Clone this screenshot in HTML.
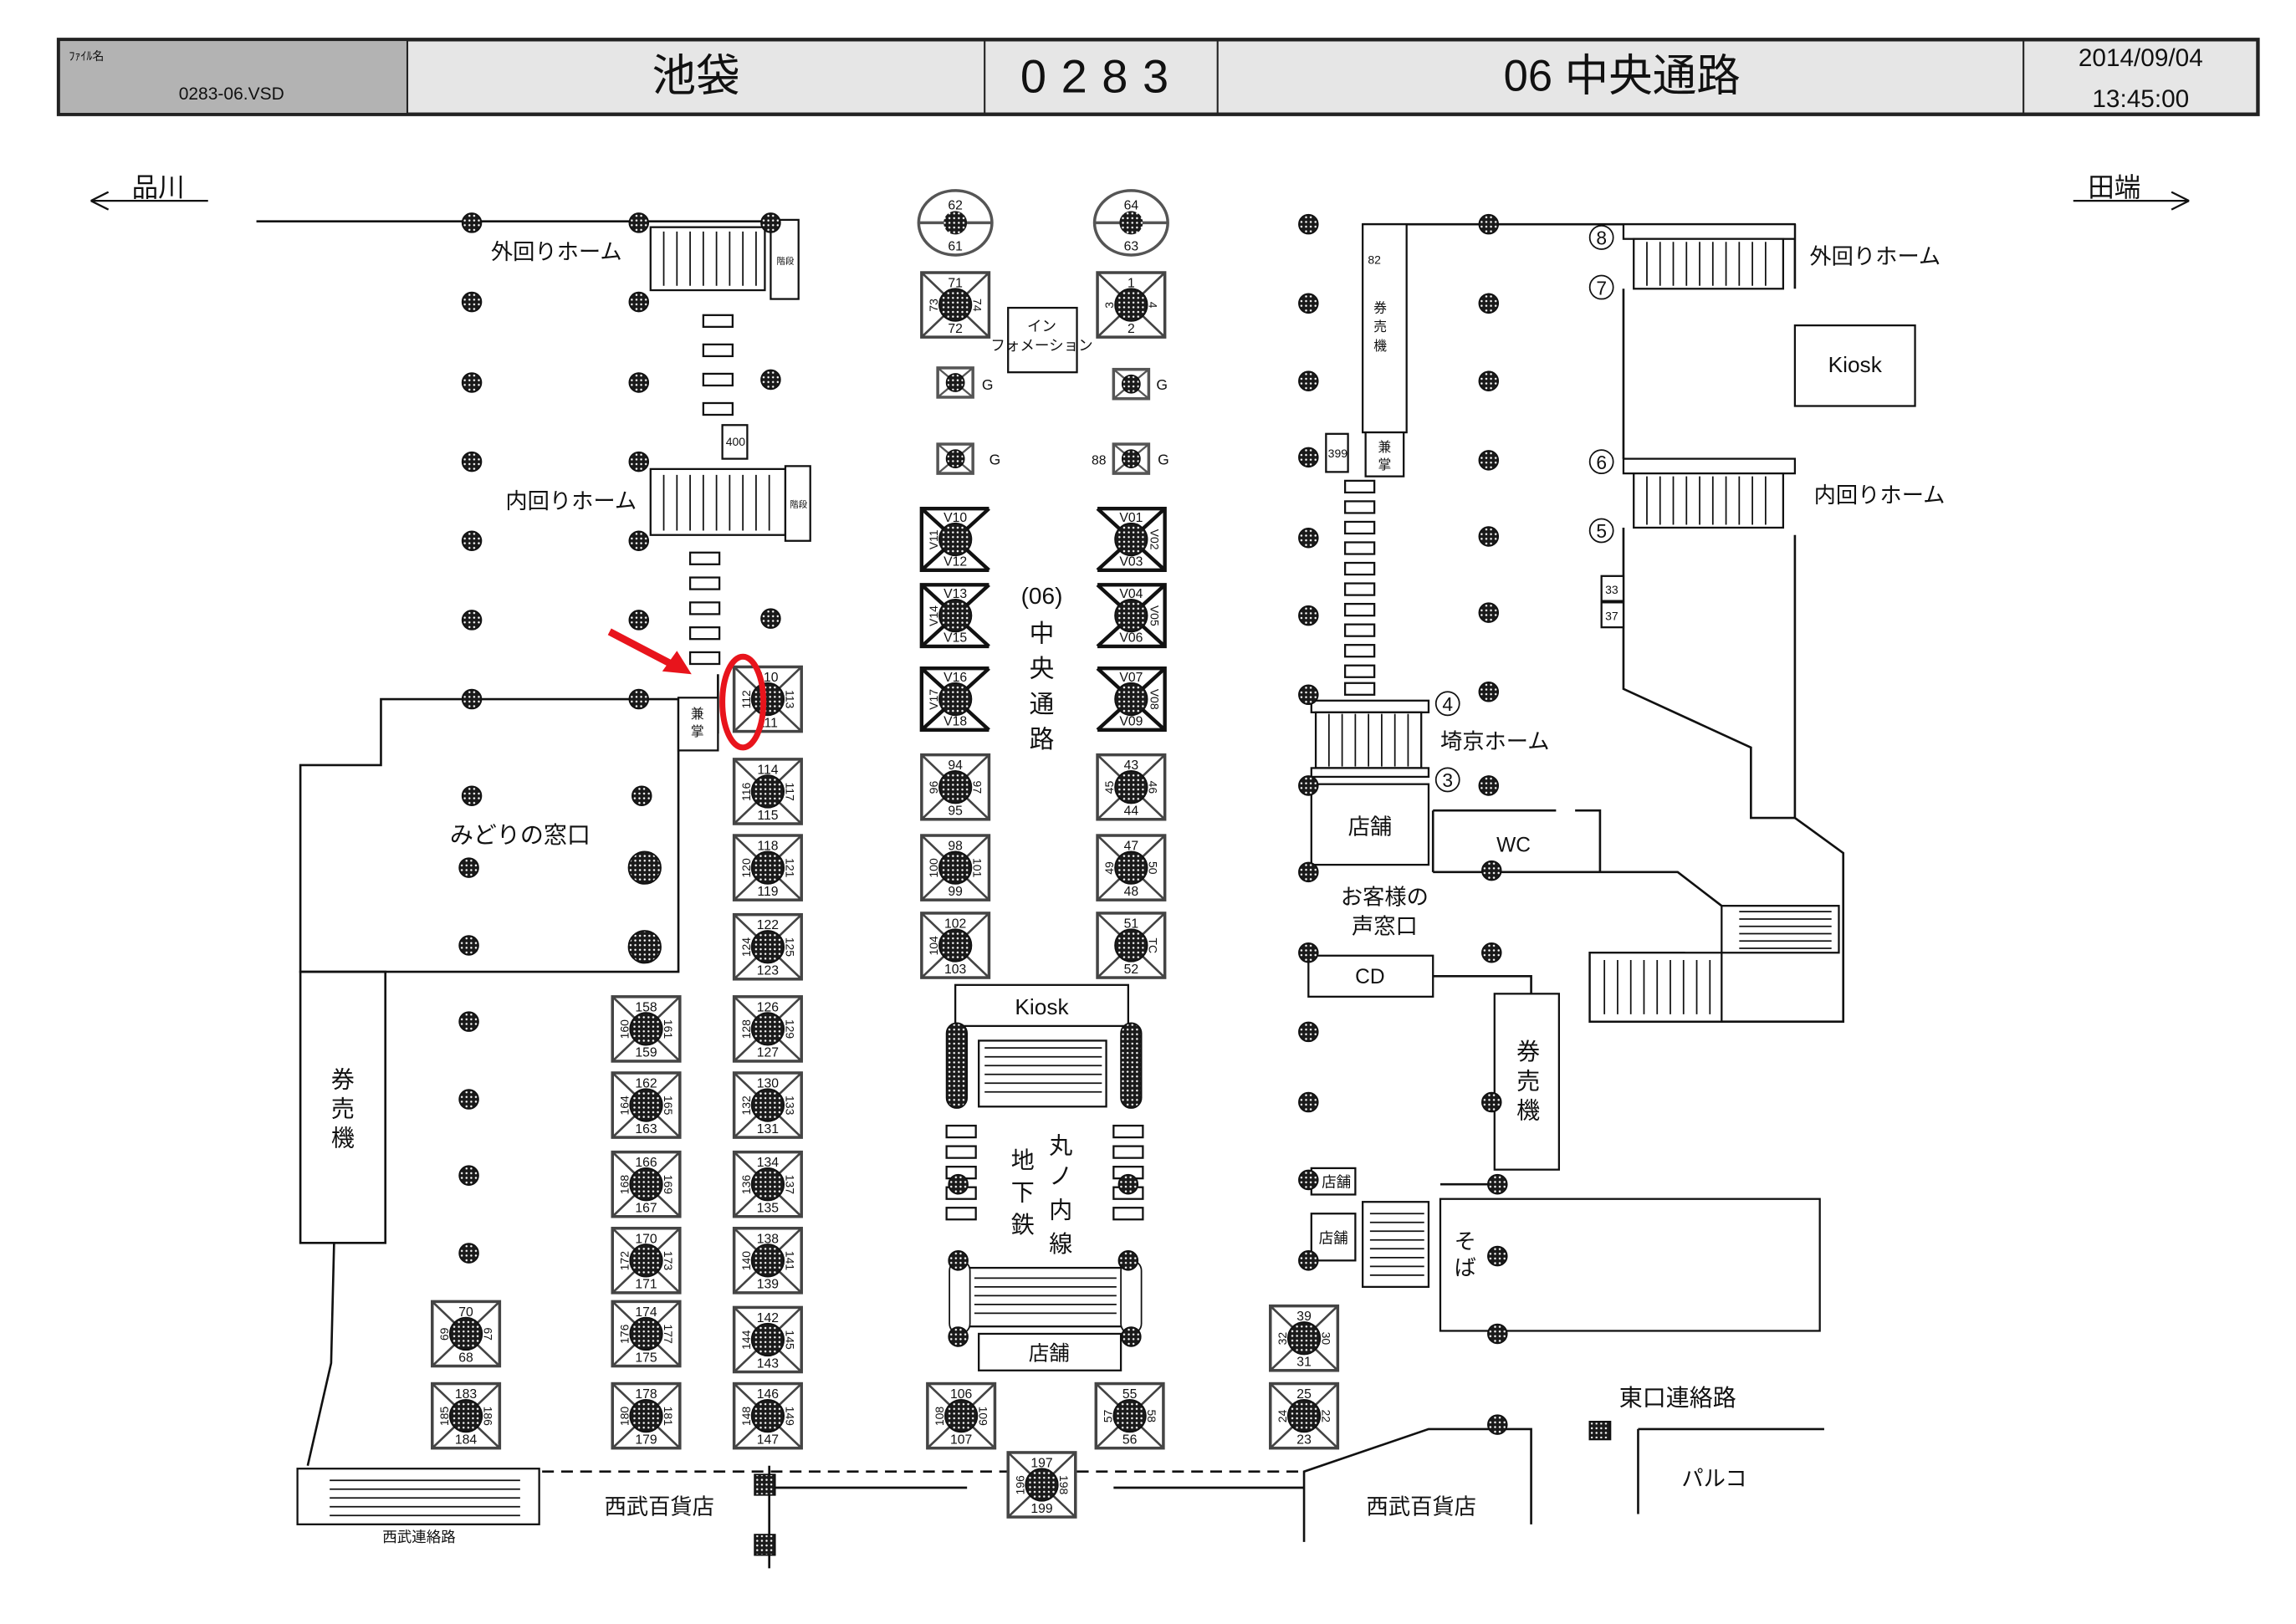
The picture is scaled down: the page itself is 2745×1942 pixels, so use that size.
<!DOCTYPE html>
<html><head><meta charset="utf-8"><style>
html,body{margin:0;padding:0;background:#fff;}
svg{display:block;}
text{font-family:"Liberation Sans","Noto Sans CJK JP",sans-serif;fill:#111;}
.s{font-size:9px;text-anchor:middle;}
.m{font-size:16px;}
.c{text-anchor:middle;}
g > text.s[x^="-"]{font-size:8px;transform-box:fill-box;transform-origin:center;transform:rotate(-90deg);}
g > text.s[x="15"],g > text.s[x="16"]{font-size:8px;transform-box:fill-box;transform-origin:center;transform:rotate(90deg);}
</style></head><body>
<svg width="2745" height="1942" viewBox="0 0 1567 1108" preserveAspectRatio="none" xmlns="http://www.w3.org/2000/svg">
<defs>
<pattern id="dot" width="3.2" height="3.2" patternUnits="userSpaceOnUse"><rect width="3.2" height="3.2" fill="#1a1a1a"/><circle cx="1.6" cy="1.6" r="0.7" fill="#fff"/></pattern>
<g id="p"><circle r="6.5" fill="url(#dot)" stroke="#111" stroke-width="1"/></g>
<g id="xb"><rect x="-23" y="-22" width="46" height="44" fill="#fff" stroke="#444" stroke-width="2"/><path d="M-23,-22L23,22M23,-22L-23,22" stroke="#444" stroke-width="1.5"/><circle r="11" fill="url(#dot)" stroke="#111"/></g>
<g id="vb"><path d="M23,-21H-23V21H23M-23,-21L23,21M23,-21L-23,21" fill="none" stroke="#111" stroke-width="2.5"/><circle r="11" fill="url(#dot)" stroke="#111"/></g>
<g id="vr"><path d="M-23,-21H23V21H-23M-23,-21L23,21M23,-21L-23,21" fill="none" stroke="#111" stroke-width="2.5"/><circle r="11" fill="url(#dot)" stroke="#111"/></g>
<g id="gb"><rect x="-12" y="-10" width="24" height="20" fill="#fff" stroke="#555" stroke-width="2"/><path d="M-12,-10L12,10M12,-10L-12,10" stroke="#555" stroke-width="1.3"/><circle r="6" fill="url(#dot)" stroke="#111"/></g>
<g id="rg"><rect x="-10" y="-4" width="20" height="8" fill="#fff" stroke="#111" stroke-width="1.3"/></g>
</defs>

<rect x="40" y="27" width="1501" height="51" fill="#e6e6e6" stroke="#222" stroke-width="2.5"/>
<rect x="41" y="28" width="237" height="49" fill="#b3b3b3"/>
<path d="M278,27V78M672,27V78M831,27V78M1381,27V78" stroke="#222" stroke-width="1.2"/>
<text x="47" y="41" style="font-size:8px">ﾌｧｲﾙ名</text>
<text x="158" y="68" class="c" style="font-size:12px">0283-06.VSD</text>
<text x="475" y="62" class="c" style="font-size:30px">池袋</text>
<text x="752" y="63" class="c" style="font-size:32px;letter-spacing:10px">0283</text>
<text x="1107" y="62" class="c" style="font-size:30px">06 中央通路</text>
<text x="1461" y="45" class="c" style="font-size:17px">2014/09/04</text>
<text x="1461" y="73" class="c" style="font-size:17px">13:45:00</text>

<path d="M62,137H142M62,137l12,-6M62,137l12,6" stroke="#111" stroke-width="1.3" fill="none"/>
<text x="90" y="134" class="m" style="font-size:18px">品川</text>
<path d="M1415,137H1494M1494,137l-12,-6M1494,137l-12,6" stroke="#111" stroke-width="1.3" fill="none"/>
<text x="1425" y="134" class="m" style="font-size:18px">田端</text>

<g stroke="#111" stroke-width="1.5" fill="none">
<path d="M175,151H525"/>
<path d="M205,522H260V477H463V663H205Z"/>
<rect x="205" y="663" width="58" height="185"/>
<path d="M228,848L226,930L210,1000"/>
<path d="M463,512L490,500V460"/>
<path d="M525,1000V1070"/>
<path d="M525,1015H660M760,1015H890"/>
<path d="M370,1004H690M735,1004H890" stroke-dasharray="8,5"/>
<path d="M930,153H1225"/>
<path d="M1108,197V313M1108,360V470L1195,510V558H1225V365M1225,558L1258,582V697H1085V650H1150"/>
<path d="M1225,197V153"/>
<path d="M978,553H1062M1075,553H1092V595"/>
<path d="M978,595H1145L1175,618"/>
<path d="M978,553V595"/>
<path d="M890,1052V1004L975,975H1045V1040"/>
<path d="M1118,975H1245M1118,975V1033"/>
<path d="M978,666H1045V678"/>
<path d="M983,808H1020"/>
</g>

<g stroke="#111" stroke-width="1.3" fill="#fff">
<rect x="444" y="155" width="78" height="43"/>
<rect x="526" y="150" width="19" height="54"/>
<rect x="444" y="320" width="92" height="45"/>
<rect x="536" y="318" width="17" height="51"/>
<rect x="1108" y="153" width="117" height="10"/>
<rect x="1115" y="163" width="102" height="34"/>
<rect x="1108" y="313" width="117" height="10"/>
<rect x="1115" y="323" width="102" height="37"/>
<rect x="895" y="478" width="80" height="8"/>
<rect x="898" y="486" width="72" height="38"/>
<rect x="895" y="524" width="80" height="6"/>
<rect x="1175" y="618" width="80" height="32"/>
<rect x="1085" y="650" width="90" height="47"/>
<rect x="930" y="820" width="45" height="58"/>
<rect x="203" y="1002" width="165" height="38"/>
<rect x="652" y="672" width="118" height="28"/>
<rect x="668" y="710" width="87" height="45"/>
<rect x="655" y="865" width="115" height="40"/>
<rect x="668" y="910" width="97" height="25"/>
<rect x="688" y="210" width="47" height="44"/>
<rect x="930" y="153" width="30" height="142"/>
<rect x="932" y="295" width="26" height="30"/>
<rect x="905" y="296" width="15" height="26"/>
<rect x="493" y="290" width="17" height="23"/>
<rect x="463" y="476" width="27" height="36"/>
<rect x="895" y="535" width="80" height="55"/>
<rect x="893" y="652" width="85" height="28"/>
<rect x="1020" y="678" width="44" height="120"/>
<rect x="983" y="818" width="259" height="90"/>
<rect x="895" y="797" width="30" height="18"/>
<rect x="895" y="828" width="30" height="32"/>
<rect x="1093" y="393" width="15" height="17"/>
<rect x="1093" y="411" width="15" height="17"/>
<rect x="1085" y="970" width="14" height="12" fill="url(#dot)"/>
</g>
<g stroke="#111" stroke-width="1">
<path d="M453,158V195M462,158V195M471,158V195M480,158V195M489,158V195M498,158V195M507,158V195M516,158V195"/>
<path d="M453,324V362M462,324V362M471,324V362M480,324V362M489,324V362M498,324V362M507,324V362M516,324V362M525,324V362"/>
<path d="M1124,165V195M1133,165V195M1142,165V195M1151,165V195M1160,165V195M1169,165V195M1178,165V195M1187,165V195M1196,165V195M1205,165V195"/>
<path d="M1124,325V358M1133,325V358M1142,325V358M1151,325V358M1160,325V358M1169,325V358M1178,325V358M1187,325V358M1196,325V358M1205,325V358"/>
<path d="M907,487V523M916,487V523M925,487V523M934,487V523M943,487V523M952,487V523M961,487V523"/>
<path d="M1095,655V692M1104,655V692M1113,655V692M1122,655V692M1131,655V692M1140,655V692M1149,655V692M1158,655V692M1167,655V692"/>
<path d="M1187,622H1250M1187,627H1250M1187,632H1250M1187,637H1250M1187,642H1250M1187,647H1250"/>
<path d="M935,828H972M935,834H972M935,840H972M935,846H972M935,852H972M935,858H972M935,864H972M935,870H972"/>
<path d="M225,1010H355M225,1016H355M225,1022H355M225,1028H355M225,1034H355"/>
<path d="M672,715H752M672,721H752M672,727H752M672,733H752M672,739H752M672,745H752"/>
<path d="M665,872H762M665,878H762M665,884H762M665,890H762M665,896H762"/>
</g>
<rect x="646" y="698" width="14" height="58" rx="7" fill="url(#dot)" stroke="#111"/>
<rect x="765" y="698" width="14" height="58" rx="7" fill="url(#dot)" stroke="#111"/>
<rect x="648" y="860" width="14" height="50" rx="7" fill="#fff" stroke="#111"/>
<rect x="765" y="860" width="14" height="50" rx="7" fill="#fff" stroke="#111"/>

<use href="#rg" x="490" y="219"/><use href="#rg" x="490" y="239"/><use href="#rg" x="490" y="259"/><use href="#rg" x="490" y="279"/>
<use href="#rg" x="481" y="381"/><use href="#rg" x="481" y="398"/><use href="#rg" x="481" y="415"/><use href="#rg" x="481" y="432"/><use href="#rg" x="481" y="449"/>
<use href="#rg" x="928" y="332"/><use href="#rg" x="928" y="346"/><use href="#rg" x="928" y="360"/><use href="#rg" x="928" y="374"/><use href="#rg" x="928" y="388"/><use href="#rg" x="928" y="402"/><use href="#rg" x="928" y="416"/><use href="#rg" x="928" y="430"/><use href="#rg" x="928" y="444"/><use href="#rg" x="928" y="458"/><use href="#rg" x="928" y="470"/>
<use href="#rg" x="656" y="772"/><use href="#rg" x="656" y="786"/><use href="#rg" x="656" y="800"/><use href="#rg" x="656" y="814"/><use href="#rg" x="656" y="828"/>
<use href="#rg" x="770" y="772"/><use href="#rg" x="770" y="786"/><use href="#rg" x="770" y="800"/><use href="#rg" x="770" y="814"/><use href="#rg" x="770" y="828"/>

<use href="#p" x="322" y="152"/><use href="#p" x="322" y="206"/><use href="#p" x="322" y="261"/><use href="#p" x="322" y="315"/><use href="#p" x="322" y="369"/><use href="#p" x="322" y="423"/><use href="#p" x="322" y="477"/><use href="#p" x="322" y="543"/><use href="#p" x="320" y="592"/><use href="#p" x="320" y="645"/><use href="#p" x="320" y="697"/><use href="#p" x="320" y="750"/><use href="#p" x="320" y="802"/><use href="#p" x="320" y="855"/>
<use href="#p" x="436" y="152"/><use href="#p" x="436" y="206"/><use href="#p" x="436" y="261"/><use href="#p" x="436" y="315"/><use href="#p" x="436" y="369"/><use href="#p" x="436" y="423"/><use href="#p" x="436" y="477"/><use href="#p" x="438" y="543"/>
<circle cx="440" cy="592" r="11" fill="url(#dot)" stroke="#111"/><circle cx="440" cy="646" r="11" fill="url(#dot)" stroke="#111"/>
<use href="#p" x="526" y="152"/><use href="#p" x="526" y="259"/><use href="#p" x="526" y="422"/>
<use href="#p" x="893" y="153"/><use href="#p" x="893" y="207"/><use href="#p" x="893" y="260"/><use href="#p" x="893" y="312"/><use href="#p" x="893" y="367"/><use href="#p" x="893" y="420"/><use href="#p" x="893" y="474"/><use href="#p" x="893" y="536"/><use href="#p" x="893" y="595"/><use href="#p" x="893" y="650"/><use href="#p" x="893" y="704"/><use href="#p" x="893" y="752"/><use href="#p" x="893" y="805"/><use href="#p" x="893" y="860"/>
<use href="#p" x="1016" y="153"/><use href="#p" x="1016" y="207"/><use href="#p" x="1016" y="260"/><use href="#p" x="1016" y="314"/><use href="#p" x="1016" y="366"/><use href="#p" x="1016" y="418"/><use href="#p" x="1016" y="472"/><use href="#p" x="1016" y="536"/><use href="#p" x="1018" y="594"/><use href="#p" x="1018" y="650"/><use href="#p" x="1018" y="752"/><use href="#p" x="1022" y="808"/><use href="#p" x="1022" y="857"/><use href="#p" x="1022" y="910"/><use href="#p" x="1022" y="972"/>
<use href="#p" x="654" y="808"/><use href="#p" x="770" y="808"/><use href="#p" x="654" y="860"/><use href="#p" x="770" y="860"/><use href="#p" x="654" y="912"/><use href="#p" x="772" y="912"/>
<rect x="515" y="1006" width="14" height="14" fill="url(#dot)" stroke="#111"/><rect x="515" y="1047" width="14" height="14" fill="url(#dot)" stroke="#111"/>

<g stroke="#555" stroke-width="2" fill="#fff"><ellipse cx="652" cy="152" rx="25" ry="22"/><ellipse cx="772" cy="152" rx="25" ry="22"/><path d="M627,152H677M747,152H797" fill="none"/></g>
<circle cx="652" cy="152" r="8" fill="url(#dot)"/><circle cx="772" cy="152" r="8" fill="url(#dot)"/>
<text x="652" y="143" class="s">62</text><text x="652" y="171" class="s">61</text><text x="772" y="143" class="s">64</text><text x="772" y="171" class="s">63</text>

<g transform="translate(652,208)"><use href="#xb"/><text y="-12" class="s">71</text><text y="19" class="s">72</text><text x="-15" y="3" class="s">73</text><text x="15" y="3" class="s">74</text></g>
<g transform="translate(772,208)"><use href="#xb"/><text y="-12" class="s">1</text><text y="19" class="s">2</text><text x="-15" y="3" class="s">3</text><text x="15" y="3" class="s">4</text></g>
<use href="#gb" x="652" y="261"/><use href="#gb" x="772" y="262"/><use href="#gb" x="652" y="313"/><use href="#gb" x="772" y="313"/>
<text x="674" y="266" class="s" style="font-size:10px">G</text><text x="793" y="266" class="s" style="font-size:10px">G</text><text x="679" y="317" class="s" style="font-size:10px">G</text><text x="794" y="317" class="s" style="font-size:10px">G</text><text x="750" y="317" class="s">88</text>
<g transform="translate(652,368)"><use href="#vb"/><text y="-12" class="s">V10</text><text y="18" class="s">V12</text><text x="-15" y="3" class="s">V11</text></g>
<g transform="translate(772,368)"><use href="#vr"/><text y="-12" class="s">V01</text><text y="18" class="s">V03</text><text x="16" y="3" class="s">V02</text></g>
<g transform="translate(652,420)"><use href="#vb"/><text y="-12" class="s">V13</text><text y="18" class="s">V15</text><text x="-15" y="3" class="s">V14</text></g>
<g transform="translate(772,420)"><use href="#vr"/><text y="-12" class="s">V04</text><text y="18" class="s">V06</text><text x="16" y="3" class="s">V05</text></g>
<g transform="translate(652,477)"><use href="#vb"/><text y="-12" class="s">V16</text><text y="18" class="s">V18</text><text x="-15" y="3" class="s">V17</text></g>
<g transform="translate(772,477)"><use href="#vr"/><text y="-12" class="s">V07</text><text y="18" class="s">V09</text><text x="16" y="3" class="s">V08</text></g>
<g transform="translate(652,537)"><use href="#xb"/><text y="-12" class="s">94</text><text y="19" class="s">95</text><text x="-15" y="3" class="s">96</text><text x="15" y="3" class="s">97</text></g>
<g transform="translate(772,537)"><use href="#xb"/><text y="-12" class="s">43</text><text y="19" class="s">44</text><text x="-15" y="3" class="s">45</text><text x="15" y="3" class="s">46</text></g>
<g transform="translate(652,592)"><use href="#xb"/><text y="-12" class="s">98</text><text y="19" class="s">99</text><text x="-15" y="3" class="s">100</text><text x="15" y="3" class="s">101</text></g>
<g transform="translate(772,592)"><use href="#xb"/><text y="-12" class="s">47</text><text y="19" class="s">48</text><text x="-15" y="3" class="s">49</text><text x="15" y="3" class="s">50</text></g>
<g transform="translate(652,645)"><use href="#xb"/><text y="-12" class="s">102</text><text y="19" class="s">103</text><text x="-15" y="3" class="s">104</text></g>
<g transform="translate(772,645)"><use href="#xb"/><text y="-12" class="s">51</text><text y="19" class="s">52</text><text x="15" y="3" class="s">TC</text></g>
<g transform="translate(656,966)"><use href="#xb"/><text y="-12" class="s">106</text><text y="19" class="s">107</text><text x="-15" y="3" class="s">108</text><text x="15" y="3" class="s">109</text></g>
<g transform="translate(771,966)"><use href="#xb"/><text y="-12" class="s">55</text><text y="19" class="s">56</text><text x="-15" y="3" class="s">57</text><text x="15" y="3" class="s">58</text></g>
<g transform="translate(711,1013)"><use href="#xb"/><text y="-12" class="s">197</text><text y="19" class="s">199</text><text x="-15" y="3" class="s">196</text><text x="15" y="3" class="s">198</text></g>
<g transform="translate(890,913)"><use href="#xb"/><text y="-12" class="s">39</text><text y="19" class="s">31</text><text x="-15" y="3" class="s">32</text><text x="15" y="3" class="s">30</text></g>
<g transform="translate(890,966)"><use href="#xb"/><text y="-12" class="s">25</text><text y="19" class="s">23</text><text x="-15" y="3" class="s">24</text><text x="15" y="3" class="s">22</text></g>

<g transform="translate(524,477)"><use href="#xb"/><text y="-12" class="s">110</text><text y="19" class="s">111</text><text x="-15" y="3" class="s">112</text><text x="15" y="3" class="s">113</text></g>
<g transform="translate(524,540)"><use href="#xb"/><text y="-12" class="s">114</text><text y="19" class="s">115</text><text x="-15" y="3" class="s">116</text><text x="15" y="3" class="s">117</text></g>
<g transform="translate(524,592)"><use href="#xb"/><text y="-12" class="s">118</text><text y="19" class="s">119</text><text x="-15" y="3" class="s">120</text><text x="15" y="3" class="s">121</text></g>
<g transform="translate(524,646)"><use href="#xb"/><text y="-12" class="s">122</text><text y="19" class="s">123</text><text x="-15" y="3" class="s">124</text><text x="15" y="3" class="s">125</text></g>
<g transform="translate(524,702)"><use href="#xb"/><text y="-12" class="s">126</text><text y="19" class="s">127</text><text x="-15" y="3" class="s">128</text><text x="15" y="3" class="s">129</text></g>
<g transform="translate(524,754)"><use href="#xb"/><text y="-12" class="s">130</text><text y="19" class="s">131</text><text x="-15" y="3" class="s">132</text><text x="15" y="3" class="s">133</text></g>
<g transform="translate(524,808)"><use href="#xb"/><text y="-12" class="s">134</text><text y="19" class="s">135</text><text x="-15" y="3" class="s">136</text><text x="15" y="3" class="s">137</text></g>
<g transform="translate(524,860)"><use href="#xb"/><text y="-12" class="s">138</text><text y="19" class="s">139</text><text x="-15" y="3" class="s">140</text><text x="15" y="3" class="s">141</text></g>
<g transform="translate(524,914)"><use href="#xb"/><text y="-12" class="s">142</text><text y="19" class="s">143</text><text x="-15" y="3" class="s">144</text><text x="15" y="3" class="s">145</text></g>
<g transform="translate(524,966)"><use href="#xb"/><text y="-12" class="s">146</text><text y="19" class="s">147</text><text x="-15" y="3" class="s">148</text><text x="15" y="3" class="s">149</text></g>
<g transform="translate(441,702)"><use href="#xb"/><text y="-12" class="s">158</text><text y="19" class="s">159</text><text x="-15" y="3" class="s">160</text><text x="15" y="3" class="s">161</text></g>
<g transform="translate(441,754)"><use href="#xb"/><text y="-12" class="s">162</text><text y="19" class="s">163</text><text x="-15" y="3" class="s">164</text><text x="15" y="3" class="s">165</text></g>
<g transform="translate(441,808)"><use href="#xb"/><text y="-12" class="s">166</text><text y="19" class="s">167</text><text x="-15" y="3" class="s">168</text><text x="15" y="3" class="s">169</text></g>
<g transform="translate(441,860)"><use href="#xb"/><text y="-12" class="s">170</text><text y="19" class="s">171</text><text x="-15" y="3" class="s">172</text><text x="15" y="3" class="s">173</text></g>
<g transform="translate(441,910)"><use href="#xb"/><text y="-12" class="s">174</text><text y="19" class="s">175</text><text x="-15" y="3" class="s">176</text><text x="15" y="3" class="s">177</text></g>
<g transform="translate(441,966)"><use href="#xb"/><text y="-12" class="s">178</text><text y="19" class="s">179</text><text x="-15" y="3" class="s">180</text><text x="15" y="3" class="s">181</text></g>
<g transform="translate(318,910)"><use href="#xb"/><text y="-12" class="s">70</text><text y="19" class="s">68</text><text x="-15" y="3" class="s">69</text><text x="15" y="3" class="s">67</text></g>
<g transform="translate(318,966)"><use href="#xb"/><text y="-12" class="s">183</text><text y="19" class="s">184</text><text x="-15" y="3" class="s">185</text><text x="15" y="3" class="s">186</text></g>

<g fill="#fff" stroke="#111" stroke-width="1"><circle cx="1093" cy="162" r="8"/><circle cx="1093" cy="196" r="8"/><circle cx="1093" cy="315" r="8"/><circle cx="1093" cy="362" r="8"/><circle cx="988" cy="480" r="8"/><circle cx="988" cy="532" r="8"/></g>
<text x="1093" y="167" class="c" style="font-size:13px">8</text><text x="1093" y="201" class="c" style="font-size:13px">7</text><text x="1093" y="320" class="c" style="font-size:13px">6</text><text x="1093" y="367" class="c" style="font-size:13px">5</text><text x="988" y="485" class="c" style="font-size:13px">4</text><text x="988" y="537" class="c" style="font-size:13px">3</text>

<text x="335" y="177" class="m" style="font-size:15px">外回りホーム</text>
<text x="345" y="347" class="m" style="font-size:15px">内回りホーム</text>
<text x="1235" y="180" class="m" style="font-size:15px">外回りホーム</text>
<text x="1238" y="343" class="m" style="font-size:15px">内回りホーム</text>
<text x="983" y="511" class="m" style="font-size:15px">埼京ホーム</text>
<text x="355" y="575" class="m c" style="font-size:16px">みどりの窓口</text>
<text x="234" y="742" class="m c">券</text><text x="234" y="762" class="m c">売</text><text x="234" y="782" class="m c">機</text>
<text x="1043" y="723" class="m c">券</text><text x="1043" y="743" class="m c">売</text><text x="1043" y="763" class="m c">機</text>
<text x="711" y="412" class="m c" style="font-size:16px">(06)</text>
<text x="711" y="438" class="m c" style="font-size:17px">中</text><text x="711" y="462" class="m c" style="font-size:17px">央</text><text x="711" y="486" class="m c" style="font-size:17px">通</text><text x="711" y="510" class="m c" style="font-size:17px">路</text>
<text x="724" y="787" class="m c">丸</text><text x="724" y="808" class="m c">ノ</text><text x="724" y="831" class="m c">内</text><text x="724" y="854" class="m c">線</text>
<text x="698" y="797" class="m c">地</text><text x="698" y="819" class="m c">下</text><text x="698" y="841" class="m c">鉄</text>
<text x="711" y="692" class="m c" style="font-size:15px">Kiosk</text>
<text x="1266" y="254" class="m c" style="font-size:15px">Kiosk</text>
<rect x="1225" y="222" width="82" height="55" fill="none" stroke="#111" stroke-width="1.3"/>
<text x="716" y="928" class="m c" style="font-size:14px">店舗</text>
<text x="711" y="226" class="c" style="font-size:10px">イン</text><text x="711" y="239" class="c" style="font-size:10px">フォメーション</text>
<text x="935" y="569" class="m c" style="font-size:15px">店舗</text>
<text x="1033" y="581" class="m c" style="font-size:14px">WC</text>
<text x="945" y="617" class="m c" style="font-size:15px">お客様の</text><text x="945" y="637" class="m c" style="font-size:15px">声窓口</text>
<text x="935" y="671" class="m c" style="font-size:14px">CD</text>
<text x="1000" y="852" class="m c" style="font-size:15px">そ</text><text x="1000" y="870" class="m c" style="font-size:15px">ば</text>
<text x="912" y="810" class="c" style="font-size:10px">店舗</text><text x="910" y="848" class="c" style="font-size:10px">店舗</text>
<text x="1145" y="959" class="m c">東口連絡路</text>
<text x="1170" y="1014" class="m c" style="font-size:15px">パルコ</text>
<text x="450" y="1033" class="m c" style="font-size:15px">西武百貨店</text>
<text x="970" y="1033" class="m c" style="font-size:15px">西武百貨店</text>
<text x="286" y="1052" class="c" style="font-size:10px">西武連絡路</text>
<text x="476" y="490" class="c" style="font-size:9px">兼</text><text x="476" y="502" class="c" style="font-size:9px">掌</text>
<text x="945" y="308" class="c" style="font-size:9px">兼</text><text x="945" y="320" class="c" style="font-size:9px">掌</text>
<text x="942" y="213" class="c" style="font-size:9px">券</text><text x="942" y="226" class="c" style="font-size:9px">売</text><text x="942" y="239" class="c" style="font-size:9px">機</text>
<text x="938" y="180" class="c" style="font-size:8px">82</text>
<text x="913" y="312" class="c" style="font-size:8px">399</text>
<text x="502" y="304" class="c" style="font-size:8px">400</text>
<text x="536" y="180" class="c" style="font-size:6px">階段</text>
<text x="545" y="346" class="c" style="font-size:6px">階段</text>
<text x="1100" y="405" class="c" style="font-size:8px">33</text><text x="1100" y="423" class="c" style="font-size:8px">37</text>

<path d="M416,431L462,455" stroke="#e8141c" stroke-width="5"/>
<path d="M472,460L452,458L462,444Z" fill="#e8141c"/>
<ellipse cx="507" cy="479" rx="14" ry="31" fill="none" stroke="#e8141c" stroke-width="4"/>
</svg>
</body></html>
